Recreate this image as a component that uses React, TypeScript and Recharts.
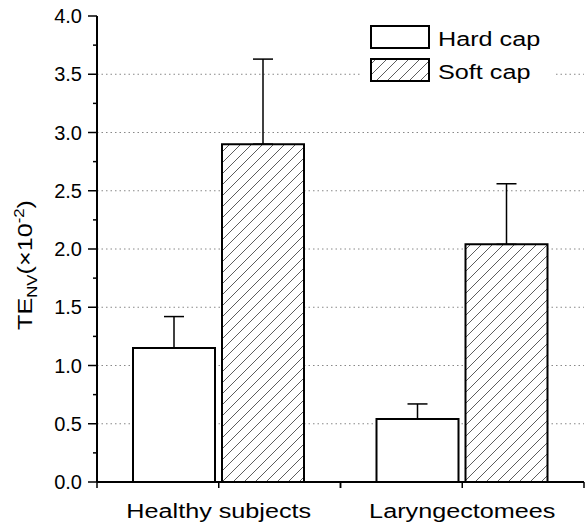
import React from 'react';
import { BarChart, Bar, XAxis, YAxis, CartesianGrid, ErrorBar, Legend } from 'recharts';

const categories = ['Healthy subjects', 'Laryngectomees'];
const hardCap = [1.15, 0.54];
const hardCapErr = [0.27, 0.13];
const softCap = [2.9, 2.04];
const softCapErr = [0.73, 0.52];
const seriesNames = ['Hard cap', 'Soft cap'];
const yTicks = [0, 0.25, 0.5, 0.75, 1, 1.25, 1.5, 1.75, 2, 2.25, 2.5, 2.75, 3, 3.25, 3.5, 3.75, 4];
const gridValues = [0.5, 1, 1.5, 2, 2.5, 3, 3.5];

const data = categories.map((name, i) => ({
  name,
  hard: hardCap[i],
  hardErr: [0, hardCapErr[i]],
  soft: softCap[i],
  softErr: [0, softCapErr[i]],
}));

const FONT = '"Liberation Sans", Arial, sans-serif';

const YTick = (props: any) => {
  const { x, y, payload } = props;
  const v = payload.value as number;
  const major = Math.abs(v * 2 - Math.round(v * 2)) < 1e-6;
  return (
    <g>
      <line x1={x - (major ? 9 : 4)} y1={y} x2={x} y2={y} stroke="#000" strokeWidth={1.5} />
      {major && (
        <text x={x - 15} y={y} dy={7} textAnchor="end" fontSize={20} fill="#000" fontFamily={FONT}>
          {v.toFixed(1)}
        </text>
      )}
    </g>
  );
};

const XTick = (props: any) => {
  const { x, y, payload } = props;
  const off = payload.offset || 121.5;
  return (
    <g>
      <line x1={x - off} y1={y} x2={x - off} y2={y + 6} stroke="#000" strokeWidth={1.5} />
      <line x1={x} y1={y} x2={x} y2={y + 6} stroke="#000" strokeWidth={1.5} />
      <line x1={x + off} y1={y} x2={x + off} y2={y + 6} stroke="#000" strokeWidth={1.5} />
      <text
        transform={`translate(${x},${y + 36}) scale(1.2,1)`}
        textAnchor="middle"
        fontSize={21}
        fill="#000"
        fontFamily={FONT}
      >
        {payload.value}
      </text>
    </g>
  );
};

const YLabel = () => (
  <text
    transform="translate(32,265) rotate(-90) scale(1.2,1)"
    textAnchor="middle"
    fontSize={21}
    fill="#000"
    fontFamily={FONT}
  >
    TE
    <tspan fontSize={14} dy={5}>NV</tspan>
    <tspan dy={-5}>(×10</tspan>
    <tspan fontSize={14} dy={-8}>-2</tspan>
    <tspan dy={8}>)</tspan>
  </text>
);

const LegendBox = (props: any) => {
  const items = props.payload || [];
  return (
    <svg width={191} height={70}>
      <defs>
        <pattern id="hatchLegend" patternUnits="userSpaceOnUse" width={11} height={11}>
          <rect width={11} height={11} fill="#fff" />
          <path d="M-1,1 l2,-2 M0,11 l11,-11 M10,12 l2,-2" stroke="#333" strokeWidth={0.8} />
        </pattern>
      </defs>
      <rect width={191} height={70} fill="#fff" />
      {items.map((it: any, i: number) => (
        <g key={i}>
          <rect
            x={9}
            y={8 + i * 33}
            width={58}
            height={22}
            fill={it.dataKey === 'soft' ? 'url(#hatchLegend)' : '#fff'}
            stroke="#000"
            strokeWidth={2}
          />
          <text
            transform={`translate(76,${28 + i * 33}) scale(1.2,1)`}
            fontSize={21}
            fill="#000"
            fontFamily={FONT}
          >
            {it.value}
          </text>
        </g>
      ))}
    </svg>
  );
};

export default function App() {
  return (
    <div style={{ position: 'absolute', left: 0, top: 0, width: 585, height: 526, background: '#fff', fontFamily: FONT }}>
      <svg width={0} height={0} style={{ position: 'absolute' }}>
        <defs>
          <pattern id="hatch" patternUnits="userSpaceOnUse" width={11} height={11}>
            <rect width={11} height={11} fill="#fff" />
            <path d="M-1,1 l2,-2 M0,11 l11,-11 M10,12 l2,-2" stroke="#333" strokeWidth={0.8} />
          </pattern>
        </defs>
      </svg>
      <BarChart
        width={585}
        height={526}
        data={data}
        margin={{ top: 16, right: 1, bottom: 0, left: 0 }}
        barSize={82}
        barGap={7}
      >
        <CartesianGrid
          vertical={false}
          horizontalValues={gridValues}
          stroke="#888"
          strokeDasharray="1.5 3"
        />
        <XAxis
          dataKey="name"
          height={44}
          axisLine={{ stroke: '#000', strokeWidth: 2 }}
          tickLine={false}
          tickSize={0}
          tickMargin={0}
          tick={<XTick />}
          interval={0}
        />
        <YAxis
          width={97}
          domain={[0, 4]}
          ticks={yTicks}
          interval={0}
          axisLine={{ stroke: '#000', strokeWidth: 2 }}
          tickLine={false}
          tickSize={0}
          tickMargin={0}
          tick={<YTick />}
          label={<YLabel />}
        />
        <Legend
          layout="vertical"
          align="center"
          verticalAlign="middle"
          wrapperStyle={{ left: 362, top: 18, width: 191, height: 70 }}
          content={<LegendBox />}
        />
        <Bar dataKey="hard" name={seriesNames[0]} fill="#fff" stroke="#000" strokeWidth={2} isAnimationActive={false}>
          <ErrorBar dataKey="hardErr" width={10} stroke="#000" strokeWidth={1.5} />
        </Bar>
        <Bar dataKey="soft" name={seriesNames[1]} fill="url(#hatch)" stroke="#000" strokeWidth={2} isAnimationActive={false}>
          <ErrorBar dataKey="softErr" width={10} stroke="#000" strokeWidth={1.5} />
        </Bar>
      </BarChart>
    </div>
  );
}
